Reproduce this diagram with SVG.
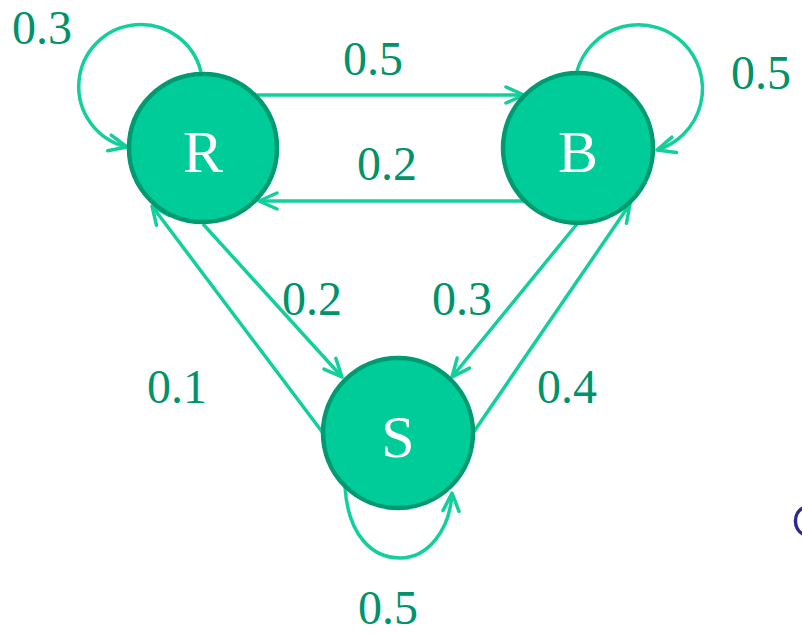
<svg xmlns="http://www.w3.org/2000/svg" width="802" height="635" viewBox="0 0 802 635">
<style>
.node circle{fill:#00cc99;stroke:#009a70;stroke-width:4.5}
.node text{font-family:"Liberation Serif","Times New Roman","DejaVu Serif",serif;font-size:60px;fill:#ffffff;text-anchor:middle}
.edge{fill:none;stroke:#12cf9c;stroke-width:3.5;marker-end:url(#arr)}
.lbl{font-family:"Liberation Serif","Times New Roman","DejaVu Serif",serif;font-size:48px;fill:#00936a}
</style>
<defs>
<marker id="arr" viewBox="0 0 22 22" refX="20" refY="11" markerWidth="22" markerHeight="22" markerUnits="userSpaceOnUse" orient="auto">
<path d="M2,3 L20,11 L2,19" fill="none" stroke="#12cf9c" stroke-width="3.5" stroke-linecap="round" stroke-linejoin="round"/>
</marker>
</defs>
<g id="connectors">
<path class="edge" d="M257,95 L524,95"/>
<path class="edge" d="M526,201 L259,201"/>
<path class="edge" d="M203,224 L342,377"/>
<path class="edge" d="M577,224 L452,377"/>
<path class="edge" d="M323,433 L152,206"/>
<path class="edge" d="M473,433 L630,204"/>
<path class="edge" d="M201,72 A62,62 0 1 0 127,147"/>
<path class="edge" d="M577,71 A64,64 0 1 1 657,150"/>
<path class="edge" d="M345,487 C348,535 372,558 400,558 C428,558 450,530 452,493"/>
</g>
<g id="labels">
<text class="lbl" x="12" y="44">0.3</text>
<text class="lbl" x="343" y="75">0.5</text>
<text class="lbl" x="731" y="89">0.5</text>
<text class="lbl" x="357" y="180">0.2</text>
<text class="lbl" x="282" y="315">0.2</text>
<text class="lbl" x="432" y="315">0.3</text>
<text class="lbl" x="147" y="403">0.1</text>
<text class="lbl" x="537" y="403">0.4</text>
<text class="lbl" x="358" y="624">0.5</text>
</g>
<g id="node-R" class="node"><circle cx="203" cy="148" r="74"/><text x="203" y="172">R</text></g>
<g id="node-B" class="node"><circle cx="578" cy="148" r="75"/><text x="578" y="172">B</text></g>
<g id="node-S" class="node"><circle cx="398" cy="433" r="75"/><text x="398" y="457">S</text></g>
<path d="M803,508 A12,14 0 0 0 803,534" fill="none" stroke="#2e2a8c" stroke-width="3.5"/>
</svg>
